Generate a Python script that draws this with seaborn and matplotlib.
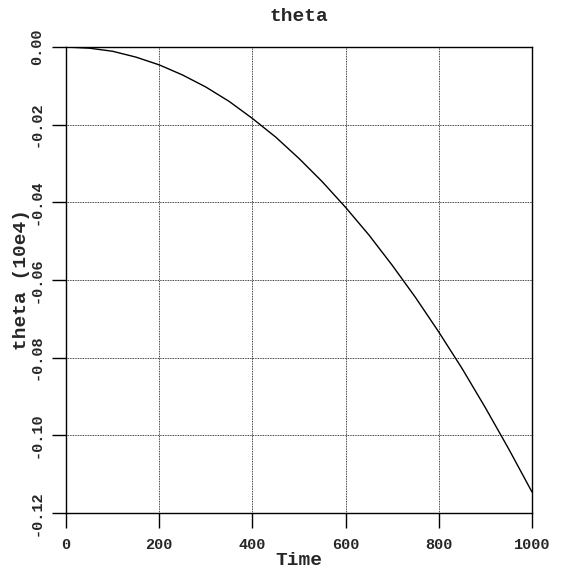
import matplotlib
matplotlib.use("Agg")
import matplotlib.pyplot as plt
import seaborn as sns
import pandas as pd

time = [0, 50, 100, 150, 200, 250, 300, 350, 400, 450, 500,
        550, 600, 650, 700, 750, 800, 850, 900, 950, 1000]
theta = [0.0, -0.0003, -0.0011, -0.0026, -0.0046, -0.0072, -0.0103, -0.0140,
         -0.0184, -0.0232, -0.0287, -0.0347, -0.0413, -0.0484, -0.0562,
         -0.0645, -0.0734, -0.0828, -0.0929, -0.1035, -0.1146]
x_ticks = [0, 200, 400, 600, 800, 1000]
y_ticks = [0.00, -0.02, -0.04, -0.06, -0.08, -0.10, -0.12]
y_tick_labels = ["0.00", "-0.02", "-0.04", "-0.06", "-0.08", "-0.10", "-0.12"]

sns.set_style("white")
plt.rcParams["font.family"] = ["Liberation Mono", "DejaVu Sans Mono"]
plt.rcParams["font.weight"] = "bold"
plt.rcParams["axes.unicode_minus"] = False

df = pd.DataFrame({"Time": time, "theta": theta})

fig = plt.figure(figsize=(5.63, 5.73), dpi=100)
ax = fig.add_axes([66 / 563, 1 - 513 / 573, (532 - 66) / 563, (513 - 47) / 573])
sns.lineplot(data=df, x="Time", y="theta", ax=ax, color="black", linewidth=1.0)

ax.set_xlim(0, 1000)
ax.set_ylim(-0.12, 0.0)
ax.set_xticks(x_ticks)
ax.set_xticklabels([str(t) for t in x_ticks], fontsize=11, fontweight="bold")
ax.set_yticks(y_ticks)
ax.set_yticklabels(y_tick_labels, fontsize=11, fontweight="bold",
                   rotation=90, va="center")

ax.grid(True, color="black", linestyle=(0, (1, 1)), linewidth=0.6)
for s in ax.spines.values():
    s.set_color("black")
    s.set_linewidth(1.0)
    s.set_visible(True)

ax.tick_params(axis="x", direction="out", length=11, width=1.0,
               color="black", pad=7, bottom=True)
ax.tick_params(axis="y", direction="out", length=10, width=1.0,
               color="black", pad=6, left=True)

ax.set_xlabel("Time", fontsize=14, fontweight="bold", labelpad=0)
ax.set_ylabel("theta (10e4)", fontsize=14, fontweight="bold", labelpad=0)
ax.set_title("theta", fontsize=14, fontweight="bold", pad=19)

fig.savefig("out.png", dpi=100)
